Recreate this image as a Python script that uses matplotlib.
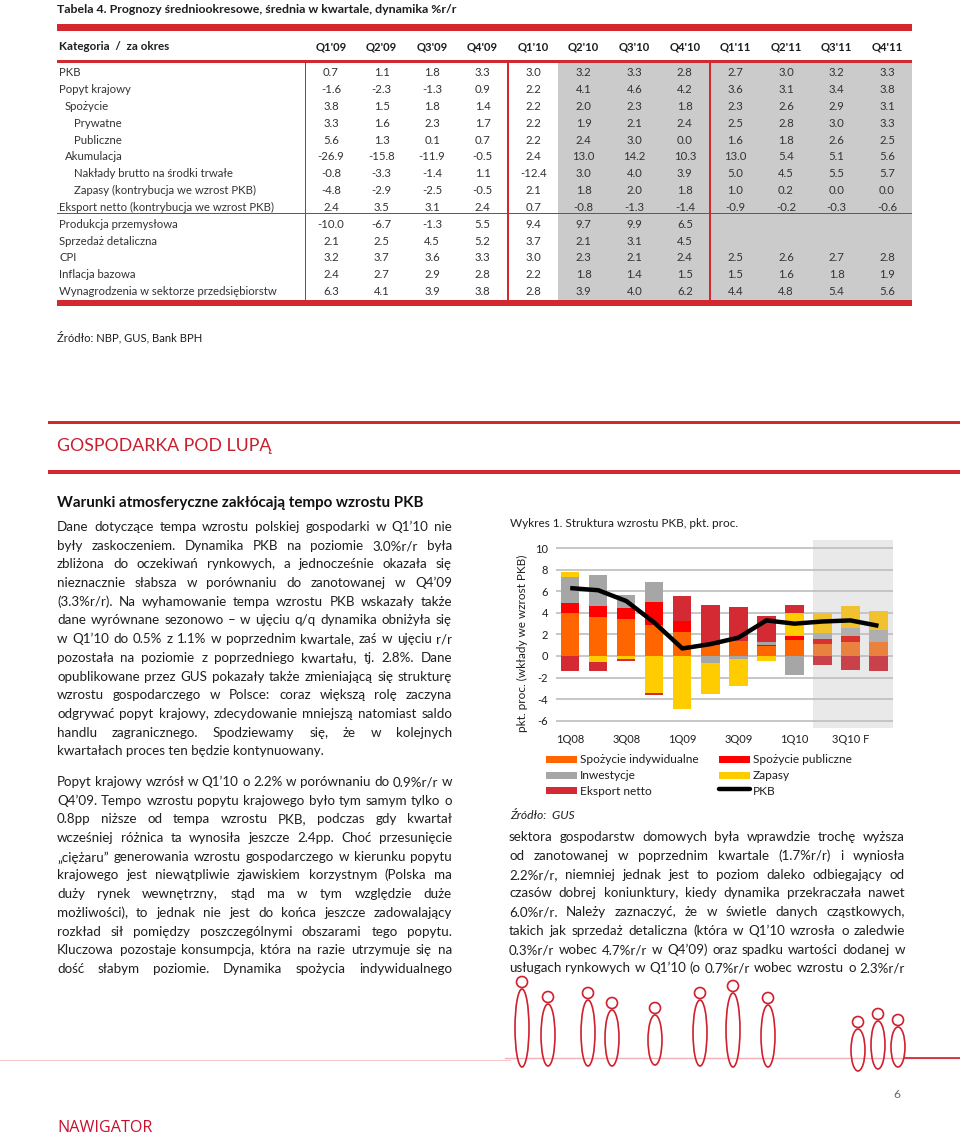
import math
import matplotlib
matplotlib.use('Agg')
import matplotlib.pyplot as plt
from matplotlib.font_manager import FontProperties
from matplotlib.patches import Rectangle, Ellipse, Circle

# ================= DATA =================
table_title = "Tabela 4. Prognozy średniookresowe, średnia w kwartale, dynamika %r/r"
table_header = "Kategoria  /  za okres"
table_columns = ["Q1'09", "Q2'09", "Q3'09", "Q4'09", "Q1'10", "Q2'10",
                 "Q3'10", "Q4'10", "Q1'11", "Q2'11", "Q3'11", "Q4'11"]
row_labels = ["PKB", "Popyt krajowy", "Spożycie", "Prywatne", "Publiczne",
              "Akumulacja", "Nakłady brutto na środki trwałe",
              "Zapasy (kontrybucja we wzrost PKB)",
              "Eksport netto (kontrybucja we wzrost PKB)",
              "Produkcja przemysłowa", "Sprzedaż detaliczna", "CPI",
              "Inflacja bazowa", "Wynagrodzenia w sektorze przedsiębiorstw"]
r_pkb = [0.7, 1.1, 1.8, 3.3, 3.0, 3.2, 3.3, 2.8, 2.7, 3.0, 3.2, 3.3]
r_popyt = [-1.6, -2.3, -1.3, 0.9, 2.2, 4.1, 4.6, 4.2, 3.6, 3.1, 3.4, 3.8]
r_spozycie = [3.8, 1.5, 1.8, 1.4, 2.2, 2.0, 2.3, 1.8, 2.3, 2.6, 2.9, 3.1]
r_prywatne = [3.3, 1.6, 2.3, 1.7, 2.2, 1.9, 2.1, 2.4, 2.5, 2.8, 3.0, 3.3]
r_publiczne = [5.6, 1.3, 0.1, 0.7, 2.2, 2.4, 3.0, 0.0, 1.6, 1.8, 2.6, 2.5]
r_akumulacja = [-26.9, -15.8, -11.9, -0.5, 2.4, 13.0, 14.2, 10.3, 13.0, 5.4, 5.1, 5.6]
r_naklady = [-0.8, -3.3, -1.4, 1.1, -12.4, 3.0, 4.0, 3.9, 5.0, 4.5, 5.5, 5.7]
r_zapasy = [-4.8, -2.9, -2.5, -0.5, 2.1, 1.8, 2.0, 1.8, 1.0, 0.2, 0.0, 0.0]
r_eksport = [2.4, 3.5, 3.1, 2.4, 0.7, -0.8, -1.3, -1.4, -0.9, -0.2, -0.3, -0.6]
r_produkcja = [-10.0, -6.7, -1.3, 5.5, 9.4, 9.7, 9.9, 6.5, None, None, None, None]
r_sprzedaz = [2.1, 2.5, 4.5, 5.2, 3.7, 2.1, 3.1, 4.5, None, None, None, None]
r_cpi = [3.2, 3.7, 3.6, 3.3, 3.0, 2.3, 2.1, 2.4, 2.5, 2.6, 2.7, 2.8]
r_inflacja = [2.4, 2.7, 2.9, 2.8, 2.2, 1.8, 1.4, 1.5, 1.5, 1.6, 1.8, 1.9]
r_wynagrodzenia = [6.3, 4.1, 3.9, 3.8, 2.8, 3.9, 4.0, 6.2, 4.4, 4.8, 5.4, 5.6]
table_rows = [r_pkb, r_popyt, r_spozycie, r_prywatne, r_publiczne, r_akumulacja,
              r_naklady, r_zapasy, r_eksport, r_produkcja, r_sprzedaz, r_cpi,
              r_inflacja, r_wynagrodzenia]
table_source = "Źródło: NBP, GUS, Bank BPH"

# chart data (contributions to GDP growth, pp)
quarters = ['1Q08', '2Q08', '3Q08', '4Q08', '1Q09', '2Q09', '3Q09', '4Q09',
            '1Q10', '2Q10', '3Q10', '4Q10']
tick_labels = ['1Q08', '3Q08', '1Q09', '3Q09', '1Q10', '3Q10 F']
spozycie_ind = [3.95, 3.65, 3.4, 2.9, 2.2, 1.0, 1.4, 0.93, 1.5, 1.1, 1.33, 1.27]
spozycie_pub = [1.0, 1.0, 1.05, 2.15, 1.05, 0.2, 0.0, 0.1, 0.4, 0.5, 0.5, 0.0]
inwestycje = [2.35, 2.85, 1.2, 1.85, 0.0, -0.65, -0.3, 0.3, -1.76, 0.55, 0.77, 1.14]
zapasy = [0.45, -0.6, -0.3, -3.4, -4.9, -2.9, -2.5, -0.45, 2.1, 1.85, 2.0, 1.77]
eksport_netto = [-1.4, -0.8, -0.2, -0.25, 2.35, 3.5, 3.1, 2.4, 0.75, -0.8, -1.3, -1.4]
pkb = [6.3, 6.1, 5.1, 3.1, 0.7, 1.1, 1.7, 3.3, 3.0, 3.2, 3.3, 2.8]
first_forecast = 9
series_names = ['Spożycie indywidualne', 'Spożycie publiczne', 'Inwestycje',
                'Zapasy', 'Eksport netto']

# text
section_title = "GOSPODARKA POD LUPĄ"
article_title = "Warunki atmosferyczne zakłócają tempo wzrostu PKB"
para1 = [
    "Dane dotyczące tempa wzrostu polskiej gospodarki w Q1’10 nie",
    "były zaskoczeniem. Dynamika PKB na poziomie 3.0%r/r była",
    "zbliżona do oczekiwań rynkowych, a jednocześnie okazała się",
    "nieznacznie słabsza w porównaniu do zanotowanej w Q4’09",
    "(3.3%r/r). Na wyhamowanie tempa wzrostu PKB wskazały także",
    "dane wyrównane sezonowo – w ujęciu q/q dynamika obniżyła się",
    "w Q1’10 do 0.5% z 1.1% w poprzednim kwartale, zaś w ujęciu r/r",
    "pozostała na poziomie z poprzedniego kwartału, tj. 2.8%. Dane",
    "opublikowane przez GUS pokazały także zmieniającą się strukturę",
    "wzrostu gospodarczego w Polsce: coraz większą rolę zaczyna",
    "odgrywać popyt krajowy, zdecydowanie mniejszą natomiast saldo",
    "handlu zagranicznego. Spodziewamy się, że w kolejnych",
    "kwartałach proces ten będzie kontynuowany.",
]
para2 = [
    "Popyt krajowy wzrósł w Q1’10 o 2.2% w porównaniu do 0.9%r/r w",
    "Q4’09. Tempo wzrostu popytu krajowego było tym samym tylko o",
    "0.8pp niższe od tempa wzrostu PKB, podczas gdy kwartał",
    "wcześniej różnica ta wynosiła jeszcze 2.4pp. Choć przesunięcie",
    "„ciężaru” generowania wzrostu gospodarczego w kierunku popytu",
    "krajowego jest niewątpliwie zjawiskiem korzystnym (Polska ma",
    "duży rynek wewnętrzny, stąd ma w tym względzie duże",
    "możliwości), to jednak nie jest do końca jeszcze zadowalający",
    "rozkład sił pomiędzy poszczególnymi obszarami tego popytu.",
    "Kluczowa pozostaje konsumpcja, która na razie utrzymuje się na",
    "dość słabym poziomie. Dynamika spożycia indywidualnego",
]
para3 = [
    "sektora gospodarstw domowych była wprawdzie trochę wyższa",
    "od zanotowanej w poprzednim kwartale (1.7%r/r) i wyniosła",
    "2.2%r/r, niemniej jednak jest to poziom daleko odbiegający od",
    "czasów dobrej koniunktury, kiedy dynamika przekraczała nawet",
    "6.0%r/r. Należy zaznaczyć, że w świetle danych cząstkowych,",
    "takich jak sprzedaż detaliczna (która w Q1’10 wzrosła o zaledwie",
    "0.3%r/r wobec 4.7%r/r w Q4’09) oraz spadku wartości dodanej w",
    "usługach rynkowych w Q1’10 (o 0.7%r/r wobec wzrostu o 2.3%r/r",
]
chart_title = "Wykres 1. Struktura wzrostu PKB, pkt. proc."
chart_ylabel = "pkt. proc. (wkłady we wzrost PKB)"
chart_source = "Źródło:  GUS"
page_number = "6"
footer = "NAWIGATOR"

# ================= STYLE =================
W, H = 960, 1134
FONT = 'Lato'
RED = '#D2282E'
TXT = '#1e1e1e'
TTXT = '#333333'
hist_colors = ['#FF6600', '#FF0000', '#A6A6A6', '#FFCC00', '#D32A34']
fc_colors = ['#E9813F', '#DB3030', '#AFAFAF', '#F1C22F', '#C9414A']

fig = plt.figure(figsize=(W / 100, H / 100), dpi=100)
renderer = fig.canvas.get_renderer()
bg = fig.add_axes([0, 0, 1, 1])
bg.set_xlim(0, W)
bg.set_ylim(H, 0)
bg.axis('off')


def metrics(s, size, weight='normal', style='normal', family=FONT):
    fp = FontProperties(family=family, size=size, weight=weight, style=style)
    return renderer.get_text_width_height_descent(s, fp, ismath=False)


def pxw(s, size, weight='normal', style='normal', family=FONT):
    return metrics(s, size, weight, style, family)[0]


def fit(s, target, weight='normal', style='normal', family=FONT):
    return 10.0 * target / pxw(s, 10, weight, style, family)


def put(x, y, s, size, ha='left', weight='normal', color=TXT, style='normal', family=FONT):
    # y is the visual centre of capitals; place text on a whole-pixel baseline,
    # compensating the rasteriser's rounding of fractional descents
    base = y + 0.36 * size * 100 / 72
    d = metrics(s, size, weight, style, family)[2]
    base = round(base) + math.ceil(d - 1e-6) - d
    bg.text(x, base, s, fontsize=size, ha=ha, va='baseline', weight=weight,
            color=color, style=style, family=family)


def justify(lines, x0, x1, y0, dy, size, justify_last=False):
    for i, line in enumerate(lines):
        y = y0 + i * dy
        words = line.split(' ')
        if (i == len(lines) - 1 and not justify_last) or len(words) == 1:
            put(x0, y, line, size)
            continue
        widths = [pxw(w, size) for w in words]
        gap = (x1 - x0 - sum(widths)) / (len(words) - 1)
        x = x0
        for w, wd in zip(words, widths):
            put(x, y, w, size)
            x += wd + gap


# ================= TABLE =================
put(57, 8.5, table_title, fit(table_title, 400, 'bold'), weight='bold')
TL, TR = 57, 912
bg.add_patch(Rectangle((TL, 24), TR - TL, 7, color=RED, lw=0))
hdr_size = fit("Q1'09", 31, 'bold')
put(59, 46, table_header, fit(table_header, 110, 'bold'), weight='bold')
col_x = [331 + 50.55 * i for i in range(len(table_columns))]
for cx, c in zip(col_x, table_columns):
    put(cx, 46, c, hdr_size, ha='center', weight='bold')
# shading of forecast columns
bg.add_patch(Rectangle(((col_x[4] + col_x[5]) / 2, 62), TR - (col_x[4] + col_x[5]) / 2,
                       238, color='#CBCBCB', lw=0))
bg.add_patch(Rectangle((TL, 60), TR - TL, 3, color=RED, lw=0))
row_size = fit(row_labels[-1], 219)
indent = [0, 0, 6, 15, 15, 6, 15, 15, 0, 0, 0, 0, 0, 0]
for i, (lab, vals) in enumerate(zip(row_labels, table_rows)):
    y = 72 + 16.85 * i
    put(59 + indent[i], y, lab, row_size, color=TTXT)
    for cx, v in zip(col_x, vals):
        if v is not None:
            put(cx, y, f"{v:.1f}", row_size, ha='center', color=TTXT)
bg.add_patch(Rectangle((TL, 212.5), TR - TL, 1.6, color=RED, lw=0))
for vx in [305.5, (col_x[3] + col_x[4]) / 2, (col_x[7] + col_x[8]) / 2]:
    bg.add_patch(Rectangle((vx - 0.8, 61), 1.6, 239, color=RED, lw=0))
bg.add_patch(Rectangle((TL, 300), TR - TL, 6, color=RED, lw=0))
put(57, 337, table_source, fit(table_source, 146))

# ================= SECTION HEADER =================
bg.add_patch(Rectangle((48, 420.5), W - 48, 3.5, color=RED, lw=0))
put(57, 445, section_title, fit(section_title, 212), color='#C8202F')
bg.add_patch(Rectangle((48, 469.5), W - 48, 4, color=RED, lw=0))
put(57, 502, article_title, fit(article_title, 368, 'bold'), weight='bold', color='#111111')

# ================= BODY TEXT =================
body_size = fit(para1[-1], 268)
justify(para1, 57, 452, 526, 18.72, body_size)
justify(para2, 57, 452, 781, 18.72, body_size, justify_last=True)
justify(para3, 509, 905, 836.5, 18.72, body_size, justify_last=True)

# ================= CHART =================
put(510, 523, chart_title, fit(chart_title, 227))
axL, axR, axT, axB = 556.2, 892.5, 540.0, 728.0
ax = fig.add_axes([axL / W, 1 - axB / H, (axR - axL) / W, (axB - axT) / H])
ppu = 10.78
ax.set_xlim(-0.5, len(quarters) - 0.5)
ax.set_ylim(-(axB - 656) / ppu, (656 - axT) / ppu)
ax.axvspan(first_forecast - 0.32, len(quarters) - 0.5, color='#E9E9E9', lw=0, zorder=0)
for s in ax.spines.values():
    s.set_visible(False)
ax.set_yticks(range(-6, 11, 2))
ax.set_yticklabels([str(v) for v in range(-6, 11, 2)])
ax.yaxis.grid(True, color='#BEBEBE', lw=1.2)
ax.set_axisbelow(True)
ax.set_xticks(range(0, len(quarters), 2))
ax.set_xticklabels(tick_labels)
tick_size = fit('1Q08', 28)
ax.tick_params(axis='both', length=0, labelsize=tick_size, labelcolor=TXT)
ax.tick_params(axis='y', pad=6)
ax.tick_params(axis='x', pad=4)
for lab in ax.get_xticklabels() + ax.get_yticklabels():
    lab.set_family(FONT)
ax.set_ylabel(chart_ylabel, fontsize=fit(chart_ylabel, 177), family=FONT, color=TXT)
ax.yaxis.set_label_coords(-0.084, 0.45)

series = [spozycie_ind, spozycie_pub, inwestycje, zapasy, eksport_netto]
pos_base = [0.0] * len(quarters)
neg_base = [0.0] * len(quarters)
for k, vals in enumerate(series):
    for i, v in enumerate(vals):
        col = fc_colors[k] if i >= first_forecast else hist_colors[k]
        if v >= 0:
            ax.bar(i, v, bottom=pos_base[i], width=0.655, color=col, lw=0, zorder=2)
            pos_base[i] += v
        else:
            ax.bar(i, v, bottom=neg_base[i], width=0.655, color=col, lw=0, zorder=2)
            neg_base[i] += v
ax.plot(range(len(quarters)), pkb, color='black', lw=3.2, zorder=5,
        solid_joinstyle='round', solid_capstyle='butt')

# legend (manual)
leg_size = fit(series_names[0], 119)
leg_items = [(546, 759, 0), (719, 759, 1), (546, 775, 2), (719, 775, 3), (546, 790.5, 4)]
for x, y, k in leg_items:
    bg.add_patch(Rectangle((x, y - 3.5), 31, 7, color=hist_colors[k], lw=0))
    put(x + 34, y, series_names[k], leg_size)
bg.plot([719, 750], [788.5, 788.5], color='black', lw=3.2, solid_capstyle='round')
put(753, 790.5, 'PKB', leg_size)
put(510, 814.5, chart_source, fit(chart_source, 65, style='italic'), style='italic')

# ================= FOOTER / DECORATION =================
dec = '#D0202E'
bg.plot([0, 510], [1060, 1060], color='#F6CACA', lw=0.8)
bg.plot([505, 960], [1058, 1058], color=dec, lw=1.0, alpha=0.35)
bg.plot([905, 960], [1058, 1058], color=dec, lw=1.2)
figs = [(522, 982, 78), (548, 997, 62), (588, 993, 66), (612, 1003, 56),
        (655, 1008, 50), (700, 993, 66), (733, 986, 74), (768, 998, 62),
        (858, 1022, 42), (878, 1014, 48), (898, 1020, 40)]
for fx, fy, fh in figs:
    bg.add_patch(Circle((fx, fy), 5.5, fill=False, ec=dec, lw=1.2))
    bg.add_patch(Ellipse((fx, fy + 7 + fh / 2), 14, fh, fill=False, ec=dec, lw=1.2))
put(893, 1094, page_number, fit('6', 7), color='#666666')
put(57, 1126, footer, fit(footer, 95, family='Open Sans'), color='#C8102E', family='Open Sans')

fig.savefig('out.png', dpi=100)
